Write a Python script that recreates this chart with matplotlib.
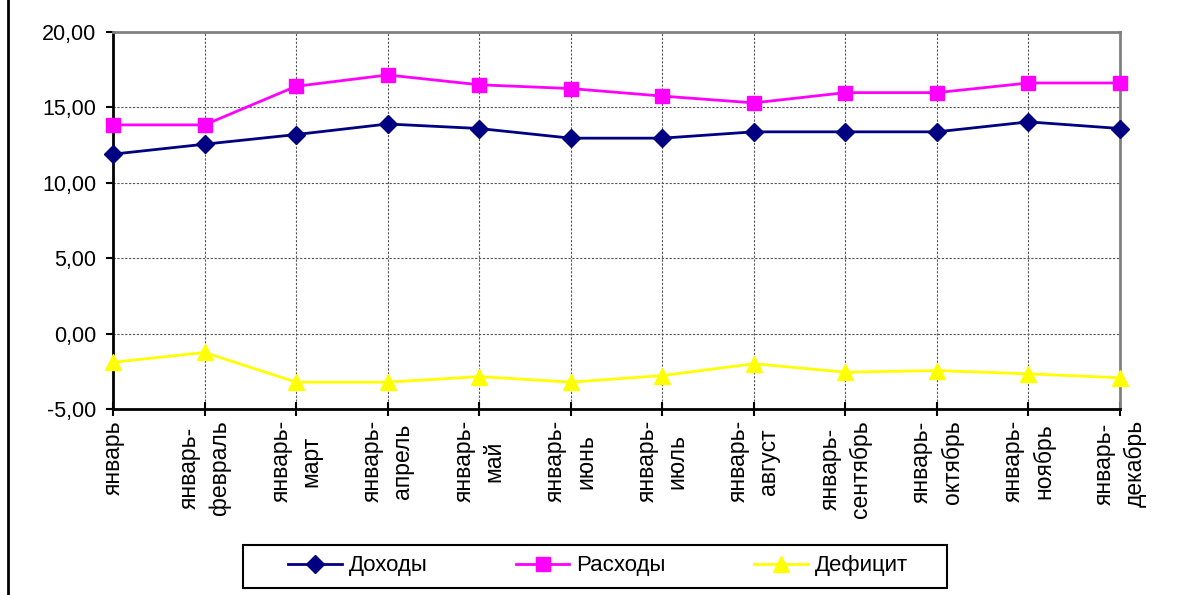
import matplotlib
matplotlib.use("Agg")
import matplotlib.pyplot as plt
from matplotlib.lines import Line2D
from matplotlib.patches import Rectangle
from matplotlib.ticker import FuncFormatter

plt.rcParams['font.family'] = ['Liberation Sans', 'DejaVu Sans']

categories = ["январь", "январь-\nфевраль", "январь-\nмарт", "январь-\nапрель", "январь-\nмай",
              "январь-\nиюнь", "январь-\nиюль", "январь-\nавгуст", "январь-\nсентябрь",
              "январь-\nоктябрь", "январь-\nноябрь", "январь-\nдекабрь"]
dohody = [11.90, 12.56, 13.20, 13.90, 13.60, 12.96, 12.96, 13.38, 13.38, 13.38, 14.04, 13.60]
rashody = [13.84, 13.84, 16.40, 17.15, 16.50, 16.25, 15.75, 15.30, 15.98, 15.98, 16.62, 16.62]
deficit = [-1.90, -1.25, -3.22, -3.22, -2.85, -3.22, -2.78, -2.00, -2.56, -2.45, -2.67, -2.93]
y_ticks = [-5, 0, 5, 10, 15, 20]

W, H = 1194, 595
fig = plt.figure(figsize=(W/100, H/100), dpi=100)
ax = fig.add_axes([113/W, 1-409/H, (1120-113)/W, (409-32)/H])

x = list(range(len(categories)))
ax.plot(x, dohody, color='#000080', lw=2, marker='D', ms=9, label='Доходы', clip_on=False, zorder=3)
ax.plot(x, rashody, color='#FF00FF', lw=2, marker='s', ms=10, label='Расходы', clip_on=False, zorder=3)
ax.plot(x, deficit, color='#FFFF00', lw=2, marker='^', ms=11, label='Дефицит', clip_on=False, zorder=3)

ax.set_xlim(0, len(categories)-1)
ax.set_ylim(-5, 20)
ax.set_yticks(y_ticks)
ax.yaxis.set_major_formatter(FuncFormatter(lambda v, p: f"{v:.2f}".replace('.', ',')))
ax.set_xticks(x)
ax.set_xticklabels(categories, rotation=90, fontsize=16.5, linespacing=1.4)
ax.tick_params(axis='y', labelsize=15.5, direction='out', length=5, width=1.5, pad=7)
ax.tick_params(axis='x', direction='inout', length=10, width=1.5, pad=3)

ax.grid(True, color='#555555', linestyle=(0, (2, 1.5)), linewidth=0.8)
ax.set_axisbelow(True)

for s in ['top', 'right']:
    ax.spines[s].set_color('#808080')
    ax.spines[s].set_linewidth(2)
for s in ['left', 'bottom']:
    ax.spines[s].set_color('black')
    ax.spines[s].set_linewidth(2)

leg = fig.legend(loc='center', bbox_to_anchor=(598/W, 1-566/H), ncol=3, fontsize=16,
                 frameon=False, handlelength=2.4,
                 columnspacing=4.0, borderpad=0.0, handletextpad=0.3, borderaxespad=0)

fig.add_artist(Rectangle((243/W, 1-588/H), (947-243)/W, (588-545)/H, transform=fig.transFigure,
                         facecolor='none', edgecolor='black', lw=1.5))
fig.add_artist(Line2D([8/W, 8/W], [0, 1], color='black', lw=2, transform=fig.transFigure))

fig.savefig('out.png', dpi=100, facecolor='white')
